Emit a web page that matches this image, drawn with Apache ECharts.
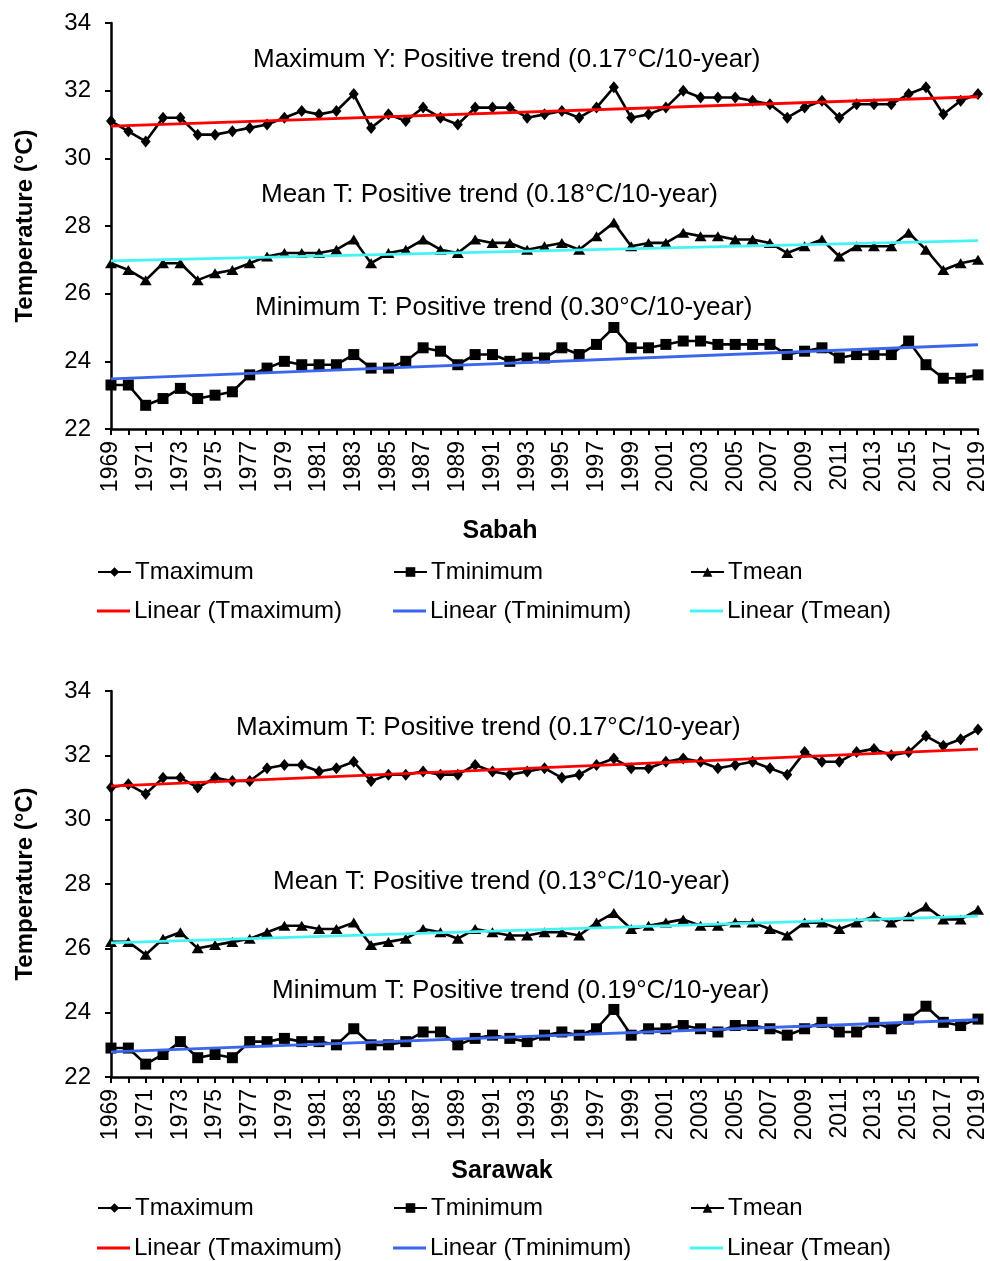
<!DOCTYPE html>
<html>
<head>
<meta charset="utf-8">
<script src="https://cdn.jsdelivr.net/npm/echarts@6/dist/echarts.min.js"></script>
<style>
  html, body { margin: 0; padding: 0; background: #fff; }
  #chart { width: 990px; height: 1261px; }
</style>
</head>
<body>
<div id="chart"></div>
<script>
// Years on the category axis
const years = ['1969','1970','1971','1972','1973','1974','1975','1976','1977','1978',
  '1979','1980','1981','1982','1983','1984','1985','1986','1987','1988',
  '1989','1990','1991','1992','1993','1994','1995','1996','1997','1998',
  '1999','2000','2001','2002','2003','2004','2005','2006','2007','2008',
  '2009','2010','2011','2012','2013','2014','2015','2016','2017','2018','2019'];

// Sabah annual temperatures (°C)
const sabahTmax = [31.1,30.8,30.5,31.2,31.2,30.7,30.7,30.8,30.9,31.0,
  31.2,31.4,31.3,31.4,31.9,30.9,31.3,31.1,31.5,31.2,
  31.0,31.5,31.5,31.5,31.2,31.3,31.4,31.2,31.5,32.1,
  31.2,31.3,31.5,32.0,31.8,31.8,31.8,31.7,31.6,31.2,
  31.5,31.7,31.2,31.6,31.6,31.6,31.9,32.1,31.3,31.7,31.9];
const sabahTmean = [26.9,26.7,26.4,26.9,26.9,26.4,26.6,26.7,26.9,27.1,
  27.2,27.2,27.2,27.3,27.6,26.9,27.2,27.3,27.6,27.3,
  27.2,27.6,27.5,27.5,27.3,27.4,27.5,27.3,27.7,28.1,
  27.4,27.5,27.5,27.8,27.7,27.7,27.6,27.6,27.5,27.2,
  27.4,27.6,27.1,27.4,27.4,27.4,27.8,27.3,26.7,26.9,27.0];
const sabahTmin = [23.3,23.3,22.7,22.9,23.2,22.9,23.0,23.1,23.6,23.8,
  24.0,23.9,23.9,23.9,24.2,23.8,23.8,24.0,24.4,24.3,
  23.9,24.2,24.2,24.0,24.1,24.1,24.4,24.2,24.5,25.0,
  24.4,24.4,24.5,24.6,24.6,24.5,24.5,24.5,24.5,24.2,
  24.3,24.4,24.1,24.2,24.2,24.2,24.6,23.9,23.5,23.5,23.6];
// Sabah linear trend values at 1969 and 2019
const sabahTrendMax = [30.95, 31.82];
const sabahTrendMean = [26.97, 27.57];
const sabahTrendMin = [23.48, 24.49];

// Sarawak annual temperatures (°C)
const sarawakTmax = [31.0,31.1,30.8,31.3,31.3,31.0,31.3,31.2,31.2,31.6,
  31.7,31.7,31.5,31.6,31.8,31.2,31.4,31.4,31.5,31.4,
  31.4,31.7,31.5,31.4,31.5,31.6,31.3,31.4,31.7,31.9,
  31.6,31.6,31.8,31.9,31.8,31.6,31.7,31.8,31.6,31.4,
  32.1,31.8,31.8,32.1,32.2,32.0,32.1,32.6,32.3,32.5,32.8];
const sarawakTmean = [26.2,26.2,25.8,26.3,26.5,26.0,26.1,26.2,26.3,26.5,
  26.7,26.7,26.6,26.6,26.8,26.1,26.2,26.3,26.6,26.5,
  26.3,26.6,26.5,26.4,26.4,26.5,26.5,26.4,26.8,27.1,
  26.6,26.7,26.8,26.9,26.7,26.7,26.8,26.8,26.6,26.4,
  26.8,26.8,26.6,26.8,27.0,26.8,27.0,27.3,26.9,26.9,27.2];
const sarawakTmin = [22.9,22.9,22.4,22.7,23.1,22.6,22.7,22.6,23.1,23.1,
  23.2,23.1,23.1,23.0,23.5,23.0,23.0,23.1,23.4,23.4,
  23.0,23.2,23.3,23.2,23.1,23.3,23.4,23.3,23.5,24.1,
  23.3,23.5,23.5,23.6,23.5,23.4,23.6,23.6,23.5,23.3,
  23.5,23.7,23.4,23.4,23.7,23.5,23.8,24.2,23.7,23.6,23.8];
// Sarawak linear trend values at 1969 and 2019
const sarawakTrendMax = [31.04, 32.19];
const sarawakTrendMean = [26.17, 27.00];
const sarawakTrendMin = [22.78, 23.78];

// Trend annotations
const sabahNotes = [
  'Maximum Y: Positive trend (0.17°C/10-year)',
  'Mean T: Positive trend (0.18°C/10-year)',
  'Minimum T: Positive trend (0.30°C/10-year)'
];
const sarawakNotes = [
  'Maximum T: Positive trend (0.17°C/10-year)',
  'Mean T: Positive trend (0.13°C/10-year)',
  'Minimum T: Positive trend (0.19°C/10-year)'
];

const FONT = 'Liberation Sans, Arial, sans-serif';
const RED = '#ff0000', BLUE = '#3a66ee', CYAN = '#44f4f4';

const chart = echarts.init(document.getElementById('chart'), null, { renderer: 'canvas' });

function markerSeries(name, data, symbol, size, idx) {
  return {
    name: name, type: 'line', xAxisIndex: idx, yAxisIndex: idx,
    data: data, symbol: symbol, symbolSize: size,
    showSymbol: true, showAllSymbol: true,
    lineStyle: { color: '#000', width: 2.6 },
    itemStyle: { color: '#000', borderWidth: 0 },
    z: 3, animation: false
  };
}
function trendSeries(name, ends, color, idx) {
  return {
    name: name, type: 'line', xAxisIndex: idx, yAxisIndex: idx,
    data: [[years[0], ends[0]], [years[years.length - 1], ends[1]]],
    symbol: 'none', lineStyle: { color: color, width: 2.8 },
    itemStyle: { color: color },
    z: 4, animation: false
  };
}

function xAxis(idx) {
  return {
    type: 'category', gridIndex: idx, data: years, boundaryGap: false,
    axisLine: { lineStyle: { color: '#000', width: 2.5 } },
    axisTick: { interval: 0, length: 6, lineStyle: { color: '#000', width: 2 } },
    axisLabel: { interval: 1, rotate: 90, margin: 12, color: '#000', fontSize: 23, fontFamily: FONT },
    splitLine: { show: false }
  };
}
function yAxis(idx) {
  return {
    type: 'value', gridIndex: idx, min: 22, max: 34, interval: 2,
    name: 'Temperature (°C)', nameLocation: 'middle', nameGap: 74,
    nameTextStyle: { fontSize: 24, fontWeight: 'bold', fontFamily: FONT, color: '#000' },
    axisLine: { show: true, lineStyle: { color: '#000', width: 2.5 } },
    axisTick: { show: true, length: 6, lineStyle: { color: '#000', width: 2 } },
    axisLabel: { margin: 20, color: '#000', fontSize: 24, fontFamily: FONT },
    splitLine: { show: false }
  };
}

// One legend component per entry, laid out as a 3 x 2 table
function legends(top1, top2) {
  const cols = [97, 393, 690];
  const rows = [
    ['Tmaximum', 'Tminimum', 'Tmean'],
    ['Linear (Tmaximum)', 'Linear (Tminimum)', 'Linear (Tmean)']
  ];
  const out = [];
  rows.forEach((row, r) => {
    row.forEach((name, c) => {
      const item = r === 0 ? { name: name } : { name: name, icon: 'rect' };
      out.push({
        data: [item], left: cols[c], top: r === 0 ? top1 : top2,
        orient: 'horizontal', padding: 0, itemWidth: 33, itemHeight: r === 0 ? 12 : 3,
        selectedMode: false,
        textStyle: { fontSize: 24, fontFamily: FONT, color: '#000', lineHeight: 24, padding: [0, 0, 0, -1] }
      });
    });
  });
  return out;
}

function noteText(text, x, y) {
  return {
    type: 'text', x: x, y: y, silent: true,
    style: { text: text, font: '26px ' + FONT, fill: '#000', textAlign: 'left', textVerticalAlign: 'middle' }
  };
}
function titleText(text, x, y) {
  return {
    type: 'text', x: x, y: y, silent: true,
    style: { text: text, font: 'bold 25px ' + FONT, fill: '#000', textAlign: 'center', textVerticalAlign: 'middle' }
  };
}

const option = {
  backgroundColor: '#fff',
  animation: false,
  grid: [
    { left: 111, right: 12, top: 23, height: 406, containLabel: false },
    { left: 111, right: 12, top: 691, height: 386, containLabel: false }
  ],
  xAxis: [xAxis(0), xAxis(1)],
  yAxis: [yAxis(0), yAxis(1)],
  legend: legends(560, 599).concat(legends(1196, 1236)),
  graphic: [
    noteText(sabahNotes[0], 253, 60),
    noteText(sabahNotes[1], 261, 195),
    noteText(sabahNotes[2], 255, 308),
    titleText('Sabah', 500, 531),
    noteText(sarawakNotes[0], 236, 728),
    noteText(sarawakNotes[1], 273, 882),
    noteText(sarawakNotes[2], 272, 991),
    titleText('Sarawak', 502, 1171)
  ],
  series: [
    markerSeries('Tmaximum', sabahTmax, 'diamond', [10, 12], 0),
    markerSeries('Tminimum', sabahTmin, 'rect', 11, 0),
    markerSeries('Tmean', sabahTmean, 'triangle', [12, 10], 0),
    trendSeries('Linear (Tmaximum)', sabahTrendMax, RED, 0),
    trendSeries('Linear (Tminimum)', sabahTrendMin, BLUE, 0),
    trendSeries('Linear (Tmean)', sabahTrendMean, CYAN, 0),
    markerSeries('Tmaximum', sarawakTmax, 'diamond', [10, 12], 1),
    markerSeries('Tminimum', sarawakTmin, 'rect', 11, 1),
    markerSeries('Tmean', sarawakTmean, 'triangle', [12, 10], 1),
    trendSeries('Linear (Tmaximum)', sarawakTrendMax, RED, 1),
    trendSeries('Linear (Tminimum)', sarawakTrendMin, BLUE, 1),
    trendSeries('Linear (Tmean)', sarawakTrendMean, CYAN, 1)
  ]
};

chart.setOption(option);
</script>
</body>
</html>
